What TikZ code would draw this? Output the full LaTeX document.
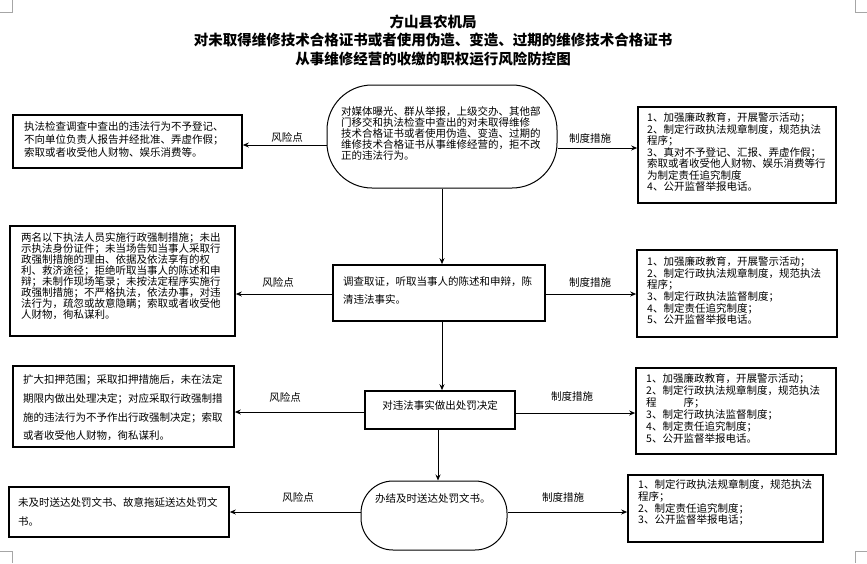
\documentclass[tikz,border=0pt]{standalone}
\usepackage{fontspec}
\setmainfont{Noto Sans CJK SC}
\usetikzlibrary{arrows.meta}
\tikzset{
  boxthick/.style={draw, line width=1.6pt, inner sep=0pt},
  boxthin/.style={draw, line width=1pt, inner sep=0pt},
  txt/.style={anchor=north west, inner sep=0pt, align=left},
  lbl/.style={inner sep=0pt, font=\fontsize{10.5}{12}\selectfont},
  arr/.style={line width=1pt, -{Stealth[length=6pt,width=5pt]}},
  ln/.style={line width=1pt},
  cmark/.style={draw=gray!70, line width=0.6pt}
}
\newcommand{\fsz}[1]{\fontsize{10.5}{#1}\selectfont}
\begin{document}
\begin{tikzpicture}[x=1pt,y=-1pt]
\useasboundingbox[fill=white] (0,0) rectangle (867,563);
% corner marks
\draw[cmark] (0,12) -- (12,12) -- (12,0);
\draw[cmark] (867,12) -- (855,12) -- (855,0);
\draw[cmark] (0,551) -- (12,551) -- (12,563);
\draw[cmark] (867,551) -- (855,551) -- (855,563);
% title
\node[inner sep=0pt, align=center, font=\bfseries\fontsize{14.5}{18.5}\selectfont] (title) at (433,40)
 {方山县农机局\\对未取得维修技术合格证书或者使用伪造、变造、过期的维修技术合格证书\\从事维修经营的收缴的职权运行风险防控图};
% central column
\node[boxthin, rounded corners=45pt, minimum width=230pt, minimum height=103pt] (b1) at (442,136.5) {};
\node[boxthick, minimum width=212pt, minimum height=56pt] (b2) at (439,293) {};
\node[boxthick, minimum width=150pt, minimum height=38pt] (b3) at (440,410) {};
\node[boxthin, rounded corners=32pt, minimum width=146pt, minimum height=69pt] (b4) at (434,515.5) {};
% left column
\node[boxthick, minimum width=229pt, minimum height=53pt] (lb1) at (127.5,141.5) {};
\node[boxthick, minimum width=225pt, minimum height=110pt] (lb2) at (122.5,281) {};
\node[boxthick, minimum width=221pt, minimum height=81pt] (lb3) at (123.5,406.5) {};
\node[boxthick, minimum width=220pt, minimum height=50pt] (lb4) at (119,512) {};
% right column
\node[boxthick, minimum width=198pt, minimum height=96pt] (rb1) at (737,155) {};
\node[boxthick, minimum width=200pt, minimum height=87pt] (rb2) at (737,293.5) {};
\node[boxthick, minimum width=200pt, minimum height=86pt] (rb3) at (736,411) {};
\node[boxthick, minimum width=195pt, minimum height=67pt] (rb4) at (725.5,508.5) {};
% texts
\node[txt, font=\fsz{11}] (t1) at (341,106.5) {对媒体曝光、群从举报，上级交办、其他部\\门移交和执法检查中查出的对未取得维修\\技术合格证书或者使用伪造、变造、过期的\\维修技术合格证书从事维修经营的，拒不改\\正的违法行为。};
\node[txt, font=\fsz{13}] (tl1) at (24,121.5) {执法检查调查中查出的违法行为不予登记、\\不向单位负责人报告并经批准、弄虚作假；\\索取或者收受他人财物、娱乐消费等。};
\node[txt, font=\fsz{11.5}] (tr1) at (647,112.5) {1、加强廉政教育，开展警示活动；\\2、制定行政执法规章制度，规范执法\\程序；\\3、真对不予登记、汇报、弄虚作假；\\索取或者收受他人财物、娱乐消费等行\\为制定责任追究制度\\4、公开监督举报电话。};
\node[txt, font=\fsz{18}] (t2) at (343,276.5) {调查取证，听取当事人的陈述和申辩，陈\\清违法事实。};
\node[txt, font=\fsz{11.6}] (tr2) at (647,256.5) {1、加强廉政教育，开展警示活动；\\2、制定行政执法规章制度，规范执法\\程序；\\3、制定行政执法监督制度；\\4、制定责任追究制度；\\5、公开监督举报电话。};
\node[txt, font=\fsz{11}] (tl2) at (21,232.5) {两名以下执法人员实施行政强制措施；未出\\示执法身份证件；未当场告知当事人采取行\\政强制措施的理由、依据及依法享有的权\\利、救济途径；拒绝听取当事人的陈述和申\\辩；未制作现场笔录；未按法定程序实施行\\政强制措施；不严格执法，依法办事，对违\\法行为，疏忽或故意隐瞒；索取或者收受他\\人财物，徇私谋利。};
\node[inner sep=0pt, font=\fsz{12}] (t3) at (440,405) {对违法事实做出处罚决定};
\node[txt, font=\fsz{12}] (tr3) at (646,373.5) {1、加强廉政教育，开展警示活动；\\2、制定行政执法规章制度，规范执法\\程\hspace{27pt}序；\\3、制定行政执法监督制度；\\4、制定责任追究制度；\\5、公开监督举报电话。};
\node[txt, font=\fsz{18.7}] (tl3) at (23,374.5) {扩大扣押范围；采取扣押措施后，未在法定\\期限内做出处理决定；对应采取行政强制措\\施的违法行为不予作出行政强制决定；索取\\或者收受他人财物，徇私谋利。};
\node[txt, font=\fsz{12}] (t4) at (375,493.5) {办结及时送达处罚文书。};
\node[txt, font=\fsz{11.7}] (tr4) at (638,479.5) {1、制定行政执法规章制度，规范执法\\程序；\\2、制定责任追究制度；\\3、公开监督举报电话；};
\node[txt, font=\fsz{19}] (tl4) at (18,497.5) {未及时送达处罚文书、故意拖延送达处罚文\\书。};
% vertical connectors
\draw[arr] (b1.south) -- (b1.south |- b2.north);
\draw[arr] (b2.south -| b1.south) -- (b1.south |- b3.north);
\draw[arr] (b3.south -| 438,0) -- (438,0 |- b4.north);
% horizontal connectors
\draw[arr] (b1.west |- 0,145) -- (lb1.east |- 0,145);
\draw[arr] (b1.east |- 0,148) -- (rb1.west |- 0,148);
\draw[arr] (b2.west |- 0,294) -- (lb2.east |- 0,294);
\draw[arr] (b2.east |- 0,294) -- (rb2.west |- 0,294);
\draw[arr] (b3.west |- 0,412) -- (lb3.east |- 0,412);
\draw[arr] (b3.east |- 0,413) -- (rb3.west |- 0,413);
\draw[arr] (b4.west |- 0,512) -- (lb4.east |- 0,512);
\draw[arr] (b4.east |- 0,512) -- (rb4.west |- 0,512);
% labels
\node[lbl] (r1) at (287,137) {风险点};
\node[lbl] (r2) at (278,282) {风险点};
\node[lbl] (r3) at (285,397) {风险点};
\node[lbl] (r4) at (298,497) {风险点};
\node[lbl] (m1) at (590,138) {制度措施};
\node[lbl] (m2) at (590,282) {制度措施};
\node[lbl] (m3) at (572,396) {制度措施};
\node[lbl] (m4) at (563,497) {制度措施};
\end{tikzpicture}
\end{document}
